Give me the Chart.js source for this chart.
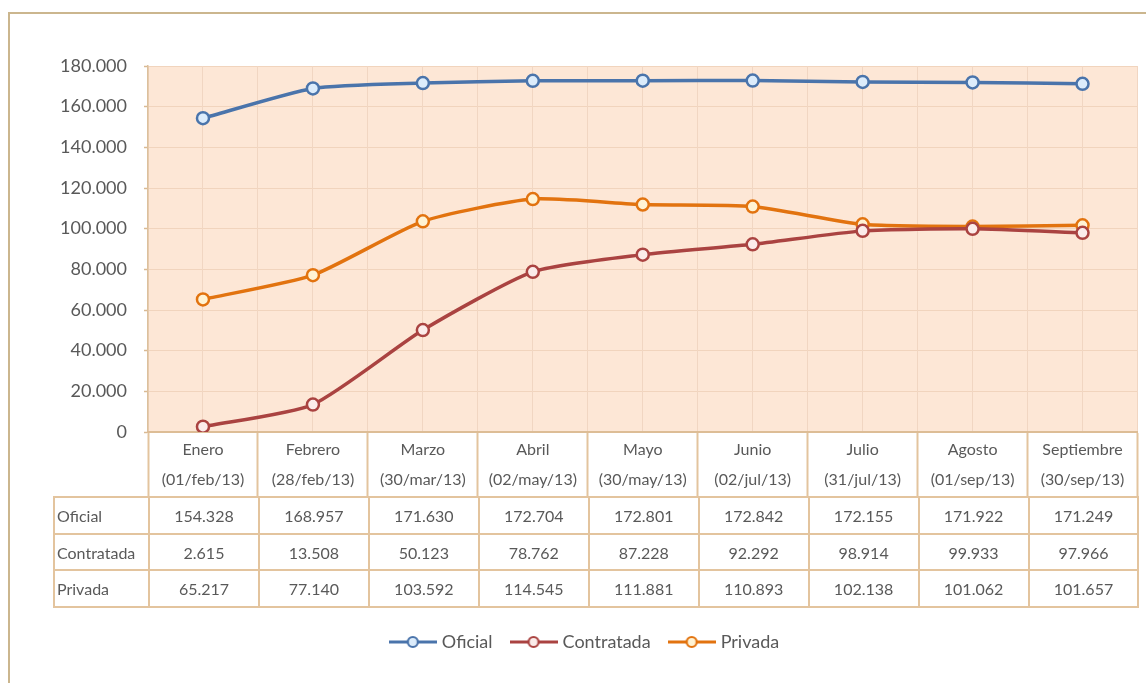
<!DOCTYPE html>
<html>
<head>
<meta charset="utf-8">
<script src="https://cdn.jsdelivr.net/npm/chart.js@4.4.1/dist/chart.umd.min.js"></script>
<style>
  html, body { margin: 0; padding: 0; width: 1146px; height: 683px; overflow: hidden; background: #ffffff; }
  #frame { position: absolute; left: 8px; top: 12px; width: 1300px; height: 900px; border: 2px solid #cbb68e; box-sizing: border-box; }
  #cv { position: absolute; left: 31px; top: 0; }
  #tbl { position: absolute; border-collapse: collapse; table-layout: fixed; font-family: Lato, "Open Sans", sans-serif; font-size: 16px; color: #595959; }
  #tbl td { border: 2px solid #e3c49e; padding: 0; text-align: center; white-space: nowrap; overflow: hidden; }
  #tbl td.lab { text-align: left; padding-left: 2px; }
</style>
</head>
<body>
<div id="frame"></div>
<canvas id="cv" width="1115" height="683"></canvas>
<table id="tbl"></table>
<script>
const categories = ['Enero', 'Febrero', 'Marzo', 'Abril', 'Mayo', 'Junio', 'Julio', 'Agosto', 'Septiembre'];
const dates = ['(01/feb/13)', '(28/feb/13)', '(30/mar/13)', '(02/may/13)', '(30/may/13)', '(02/jul/13)', '(31/jul/13)', '(01/sep/13)', '(30/sep/13)'];
const seriesNames = ['Oficial', 'Contratada', 'Privada'];
const oficial = [154328, 168957, 171630, 172704, 172801, 172842, 172155, 171922, 171249];
const contratada = [2615, 13508, 50123, 78762, 87228, 92292, 98914, 99933, 97966];
const privada = [65217, 77140, 103592, 114545, 111881, 110893, 102138, 101062, 101657];
const yMin = 0, yMax = 180000, yStep = 20000;

const lineColors = ['#4a74ab', '#aa4341', '#e2730f'];
const markerFills = ['#dcecfb', '#fbecea', '#fff3d4'];

function fmt(v) { return String(v).replace(/\B(?=(\d{3})+(?!\d))/g, '.'); }

function makeIcon(color, fill) {
  const c = document.createElement('canvas');
  c.width = 48; c.height = 16;
  const g = c.getContext('2d');
  g.strokeStyle = color; g.lineWidth = 3;
  g.beginPath(); g.moveTo(0, 8); g.lineTo(48, 8); g.stroke();
  g.beginPath(); g.arc(24, 8, 5, 0, Math.PI * 2);
  g.fillStyle = fill; g.fill();
  g.lineWidth = 2.2; g.stroke();
  return c;
}
const icons = lineColors.map((c, i) => makeIcon(c, markerFills[i]));

const values = [oficial, contratada, privada];
const datasets = values.map((d, i) => ({
  label: seriesNames[i],
  data: d,
  borderColor: lineColors[i],
  backgroundColor: markerFills[i],
  borderWidth: 3.5,
  tension: 0.2,
  pointRadius: 6,
  pointHoverRadius: 6,
  pointBorderWidth: 2.5,
  pointBackgroundColor: markerFills[i],
  pointBorderColor: lineColors[i],
  xAxisID: 'x'
}));

const bgPlugin = {
  id: 'plotBg',
  beforeDraw(chart) {
    const a = chart.chartArea, ctx = chart.ctx;
    ctx.save();
    ctx.fillStyle = '#fde7d6';
    ctx.fillRect(a.left, a.top, a.right - a.left, a.bottom - a.top);
    ctx.restore();
  }
};

const font = 'Lato, "Open Sans", sans-serif';
const chart = new Chart(document.getElementById('cv'), {
  type: 'line',
  data: { labels: categories.map((c, i) => [c, dates[i]]), datasets },
  plugins: [bgPlugin],
  options: {
    responsive: false,
    animation: false,
    events: [],
    layout: { padding: { top: 66, right: 5, bottom: 22, left: 0 } },
    plugins: {
      tooltip: { enabled: false },
      legend: {
        position: 'bottom',
        labels: {
          usePointStyle: true,
          pointStyleWidth: 40,
          padding: 21,
          color: '#595959',
          font: { family: font, size: 18 },
          generateLabels(ch) {
            const base = Chart.defaults.plugins.legend.labels.generateLabels(ch);
            return base.map((l, i) => Object.assign(l, { pointStyle: icons[i] }));
          }
        }
      }
    },
    scales: {
      y: {
        min: yMin, max: yMax,
        ticks: { stepSize: yStep, padding: 17, color: '#595959', font: { family: font, size: 18 }, callback: v => fmt(v) },
        grid: { color: '#f1d4bd', lineWidth: 1, tickColor: '#d9b993', tickLength: 4, tickWidth: 1.5 },
        border: { color: '#dcc09c', width: 1.5 },
        afterFit(s) { s.width = 117; }
      },
      x: {
        type: 'category',
        offset: true,
        position: 'bottom',
        ticks: { maxRotation: 0, minRotation: 0, autoSkip: false, padding: -62, color: '#595959', font: { family: font, size: 16, lineHeight: 1.85 } },
        grid: { offset: true, color: '#f1d6c2', lineWidth: 1, tickColor: '#e3c49e', tickLength: 65, tickWidth: 2 },
        border: { color: '#ddbd96', width: 2 },
        afterFit(s) { s.height = 180; }
      },
      x2: {
        type: 'category',
        labels: categories,
        offset: true,
        position: 'bottom',
        ticks: { display: false },
        grid: { offset: false, color: '#f1d6c2', lineWidth: 1, drawTicks: false },
        border: { display: false },
        afterFit(s) { s.height = 0; }
      }
    }
  }
});

// data table aligned with the chart's own x scale
(function buildTable() {
  const a = chart.chartArea;
  const xs = chart.scales.x;
  const canvasLeft = 31;
  const colW = (xs.getPixelForValue(1) - xs.getPixelForValue(0));
  const labW = 95;
  const tbl = document.getElementById('tbl');
  const rowH = 36.7;
  let html = '<colgroup><col style="width:' + labW + 'px">';
  for (let i = 0; i < categories.length; i++) html += '<col style="width:' + colW + 'px">';
  html += '</colgroup>';
  values.forEach((d, r) => {
    html += '<tr style="height:' + rowH + 'px"><td class="lab">' + seriesNames[r] + '</td>';
    d.forEach(v => { html += '<td>' + fmt(v) + '</td>'; });
    html += '</tr>';
  });
  tbl.innerHTML = html;
  tbl.style.width = (labW + colW * categories.length) + 'px';
  tbl.style.left = (canvasLeft + a.left - labW) + 'px';
  tbl.style.top = (a.bottom + 65 - 1) + 'px';
})();
</script>
</body>
</html>
